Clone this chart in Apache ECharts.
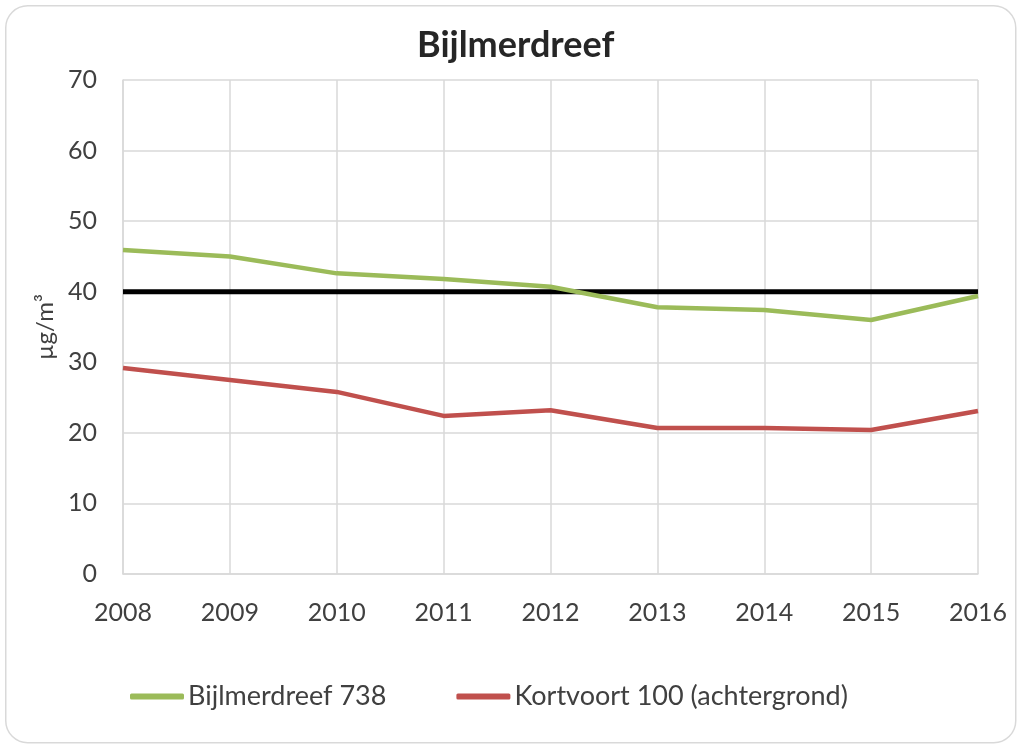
<!DOCTYPE html>
<html>
<head>
<meta charset="utf-8">
<script src="https://cdn.jsdelivr.net/npm/echarts@6/dist/echarts.min.js"></script>
<style>html,body{margin:0;padding:0;background:#fff}#c{width:1021px;height:748px}</style>
</head>
<body>
<div id="c"></div>
<script>
const years = ['2008','2009','2010','2011','2012','2013','2014','2015','2016'];
const bijlmerdreef = [45.9, 45.0, 42.6, 41.8, 40.7, 37.8, 37.4, 36.0, 39.4];
const kortvoort = [29.2, 27.5, 25.8, 22.4, 23.2, 20.7, 20.7, 20.4, 23.1];
const norm = [40, 40, 40, 40, 40, 40, 40, 40, 40];
const yTicks = [0, 10, 20, 30, 40, 50, 60, 70];

const font = 'Lato, "Open Sans", sans-serif';
const chart = echarts.init(document.getElementById('c'));
chart.setOption({
  animation: false,
  backgroundColor: '#fff',
  graphic: [{
    type: 'rect', left: 5, top: 5, z: -10,
    shape: { width: 1010, height: 737, r: 22 },
    style: { fill: '#fff', stroke: '#d9d9d9', lineWidth: 1.5 }
  }],
  title: {
    text: 'Bijlmerdreef', left: 412, top: 22,
    textStyle: { fontFamily: font, fontSize: 36, fontWeight: 'bold', color: '#262626' }
  },
  legend: {
    data: ['Bijlmerdreef 738', 'Kortvoort 100 (achtergrond)'],
    bottom: 33, left: 125, itemGap: 70, itemWidth: 54, itemHeight: 6,
    icon: 'roundRect',
    textStyle: { fontFamily: font, fontSize: 27, color: '#404040', padding: [0, 0, 0, -1] }
  },
  grid: { left: 123, right: 43, top: 80, bottom: 174 },
  xAxis: {
    type: 'category', data: years, boundaryGap: false,
    axisLine: { lineStyle: { color: '#d9d9d9', width: 1.5 } },
    axisTick: { show: false },
    axisLabel: { fontFamily: font, fontSize: 25, color: '#404040', margin: 26 },
    splitLine: { show: true, lineStyle: { color: '#d9d9d9', width: 1.5 } }
  },
  yAxis: {
    type: 'value', min: yTicks[0], max: yTicks[yTicks.length - 1], interval: 10,
    name: 'µg/m³', nameLocation: 'middle', nameGap: 66, nameRotate: 90,
    nameTextStyle: { fontFamily: font, fontSize: 24, color: '#404040' },
    axisLine: { show: true, lineStyle: { color: '#d9d9d9', width: 1.5 } },
    axisTick: { show: false },
    axisLabel: { fontFamily: font, fontSize: 25, color: '#404040', margin: 26 },
    splitLine: { lineStyle: { color: '#d9d9d9', width: 1.5 } }
  },
  series: [
    { name: 'Bijlmerdreef 738', type: 'line', data: bijlmerdreef, symbol: 'none',
      itemStyle: { color: '#9BBB59' }, lineStyle: { color: '#9BBB59', width: 4.5 }, z: 3 },
    { name: 'Kortvoort 100 (achtergrond)', type: 'line', data: kortvoort, symbol: 'none',
      itemStyle: { color: '#C0504D' }, lineStyle: { color: '#C0504D', width: 4.5 } },
    { name: 'Norm', type: 'line', data: norm, symbol: 'none',
      itemStyle: { color: '#000' }, lineStyle: { color: '#000', width: 5 }, z: 2 }
  ]
});
</script>
</body>
</html>
